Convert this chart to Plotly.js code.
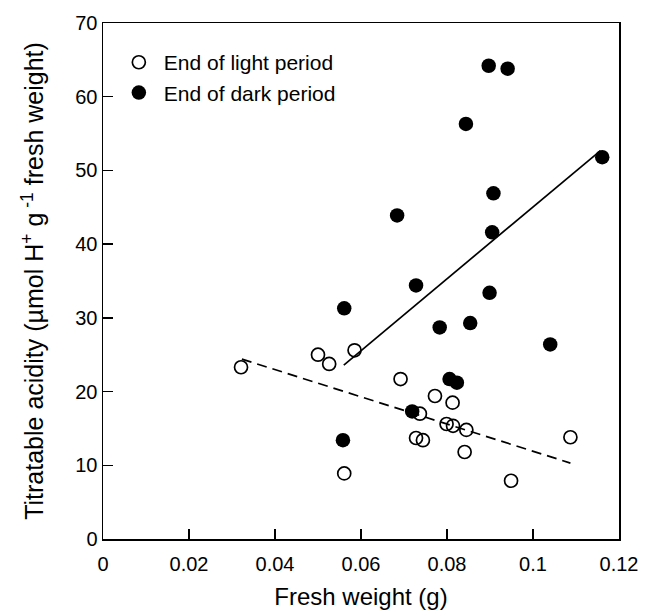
<!DOCTYPE html>
<html>
<head>
<meta charset="utf-8">
<script src="https://cdn.plot.ly/plotly-3.0.1.min.js"></script>
<style>html,body{margin:0;padding:0;background:#fff;}#chart{width:652px;height:615px;}</style>
</head>
<body>
<div id="chart"></div>
<script>
// End of light period (open circles)
const lightWeight = [0.0321, 0.0500, 0.0526, 0.0585, 0.0692, 0.0772, 0.0813, 0.0737, 0.0728, 0.0744, 0.0799, 0.0814, 0.0845, 0.0841, 0.0561, 0.0949, 0.1087];
const lightAcid   = [23.3, 25.0, 23.75, 25.6, 21.7, 19.4, 18.5, 17.0, 13.7, 13.4, 15.6, 15.35, 14.8, 11.8, 8.9, 7.9, 13.8];
// End of dark period (filled circles)
const darkWeight = [0.0897, 0.0941, 0.0844, 0.1161, 0.0908, 0.0684, 0.0905, 0.0728, 0.0899, 0.0561, 0.0783, 0.0854, 0.0806, 0.0823, 0.0719, 0.0558, 0.1040];
const darkAcid   = [64.2, 63.8, 56.3, 51.8, 46.9, 43.9, 41.6, 34.4, 33.4, 31.3, 28.7, 29.3, 21.7, 21.2, 17.3, 13.4, 26.4];
// Regression lines (end points)
const lightFitX = [0.0323, 0.1087];
const lightFitY = [24.4, 10.3];
const darkFitX  = [0.0560, 0.1157];
const darkFitY  = [23.6, 52.7];
const xTicks = [0, 0.02, 0.04, 0.06, 0.08, 0.1, 0.12];
const xTickText = ['0', '0.02', '0.04', '0.06', '0.08', '0.1', '0.12'];
const yTicks = [0, 10, 20, 30, 40, 50, 60, 70];

const FONT = 'Liberation Sans, Arial, Helvetica, sans-serif';

const traces = [
  {x: lightFitX, y: lightFitY, mode: 'lines', line: {color: '#000', width: 1.7, dash: '10px,6px'}, showlegend: false, hoverinfo: 'skip'},
  {x: darkFitX, y: darkFitY, mode: 'lines', line: {color: '#000', width: 1.7}, showlegend: false, hoverinfo: 'skip'},
  {x: lightWeight, y: lightAcid, mode: 'markers', name: 'End of light period', legendgroup: 'a',
   marker: {symbol: 'circle-open', size: 13, color: '#000', line: {width: 1.7, color: '#000'}}},
  {x: darkWeight, y: darkAcid, mode: 'markers', name: 'End of dark period', legendgroup: 'b',
   marker: {symbol: 'circle', size: 14.5, color: '#000'}}
];

const layout = {
  width: 652, height: 615,
  margin: {l: 103, r: 33, t: 23, b: 76},
  paper_bgcolor: '#fff', plot_bgcolor: '#fff',
  font: {family: FONT, color: '#000', size: 20},
  showlegend: true,
  legend: {x: 0.021, y: 0.963, xanchor: 'left', yanchor: 'top', bgcolor: 'rgba(0,0,0,0)',
           font: {size: 21, family: FONT}, traceorder: 'grouped', tracegroupgap: 0, itemwidth: 40},
  xaxis: {
    range: [0, 0.12], tickvals: xTicks, ticktext: xTickText,
    ticks: 'inside', ticklen: 10, tickwidth: 1.3, tickcolor: '#000',
    showline: true, linecolor: '#000', linewidth: 1.5, mirror: true,
    showgrid: false, zeroline: false,
    tickfont: {size: 20, family: FONT}, ticklabelstandoff: 6,
    title: {text: 'Fresh weight (g)', font: {size: 24, family: FONT}, standoff: 14}
  },
  yaxis: {
    range: [0, 70], tickvals: yTicks,
    ticks: 'inside', ticklen: 10, tickwidth: 1.3, tickcolor: '#000',
    showline: true, linecolor: '#000', linewidth: 1.5, mirror: true,
    showgrid: false, zeroline: false,
    tickfont: {size: 20, family: FONT},
    title: {text: 'Titratable acidity (µmol H<sup>+</sup> g<sup> -1</sup> fresh weight)', font: {size: 25, family: FONT}, standoff: 24}
  }
};

Plotly.newPlot('chart', traces, layout, {displayModeBar: false, staticPlot: true});
</script>
</body>
</html>
